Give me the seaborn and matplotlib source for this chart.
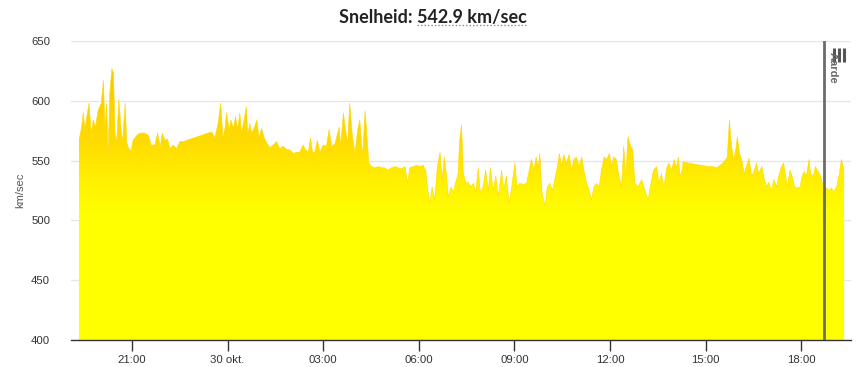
import numpy as np
import pandas as pd
import matplotlib
matplotlib.use("Agg")
import matplotlib.pyplot as plt
import seaborn as sns
from matplotlib.colors import LinearSegmentedColormap
from matplotlib.lines import Line2D

# ---- data (minutes after 29 okt 19:20, solar wind speed km/sec) ----
minutes = [0, 5, 8, 11, 19, 23, 27, 31, 36, 42, 46, 49, 52, 55, 58, 62, 65, 68, 71, 75,
           79, 82, 87, 90, 93, 98, 102, 109, 115, 124, 131, 136, 143, 148, 153, 157, 162, 167, 171, 178,
           184, 190, 197, 250, 256, 262, 267, 271, 275, 278, 283, 286, 291, 295, 299, 303, 306, 311, 315, 318,
           322, 325, 330, 335, 339, 344, 349, 353, 360,
           366, 372, 378, 385, 391, 397, 404, 410, 416, 422, 427, 432, 436, 440, 444, 449, 454, 460, 466, 471,
           476, 482, 490, 493, 498, 502, 506, 510, 515, 520, 525, 529, 534, 539, 542, 546, 551, 557, 564, 570,
           576, 582, 589, 595, 601, 608, 614, 619, 623, 630, 636, 642, 648, 653, 657, 661, 665, 670, 675, 680,
           684, 688, 692, 695, 701, 705, 709, 714, 717,
           720.5, 724, 729, 733, 738, 743, 747, 752, 756, 761, 766, 771, 775, 780, 785, 790, 796, 800, 805, 810,
           815, 821, 825, 830, 837, 843, 848, 852, 857, 861, 865, 868, 872, 878, 882, 887, 892, 896, 901, 905,
           909, 913, 918, 923, 928, 932, 937, 942, 947, 951, 956, 961, 965, 970, 975, 980, 984, 989, 994, 999,
           1003, 1007, 1012, 1017, 1022, 1026, 1030, 1034, 1039, 1043, 1047, 1053, 1060, 1066, 1072, 1076, 1082,
           1088, 1092, 1097, 1102, 1107, 1111, 1116, 1121, 1125, 1129, 1132, 1136, 1138, 1147, 1160, 1173, 1185, 1194, 1201, 1207,
           1213, 1218, 1221, 1225, 1229, 1233, 1237, 1240, 1244, 1248, 1253, 1257, 1262, 1267, 1272, 1276, 1280, 1286, 1291, 1295,
           1299, 1304, 1309, 1314, 1318, 1323, 1327, 1331, 1334, 1339, 1343, 1348, 1353, 1358, 1362, 1366, 1370, 1375, 1378, 1383,
           1387, 1392, 1397, 1400, 1405, 1408, 1412, 1417, 1422, 1427, 1432, 1436, 1439, 1441]
speed = [567, 578, 590, 577, 598, 573, 584, 578, 592, 598, 617, 578, 598, 553, 606, 627, 623, 573, 565, 601,
         578, 565, 598, 565, 561, 558, 567, 571, 573, 573, 571, 563, 563, 573, 561, 573, 567, 568, 560, 563,
         560, 566, 566, 574, 569, 581, 598, 569, 577, 590, 576, 584, 577, 587, 576, 590, 573, 584, 595, 573,
         581, 573, 577, 584, 569, 577, 569, 565, 561,
         563, 566, 560, 562, 559, 559, 556, 557, 557, 563, 559, 557, 569, 557, 557, 567, 557, 563, 562, 576,
         562, 564, 578, 562, 590, 576, 564, 598, 570, 556, 576, 584, 553, 592, 573, 548, 545, 544, 545, 544,
         544, 542, 544, 545, 544, 543, 545, 531, 544, 545, 546, 545, 546, 542, 525, 514, 528, 517, 545, 557,
         534, 553, 539, 520, 528, 523, 531, 539, 567,
         580, 539, 531, 532, 528, 531, 523, 544, 523, 528, 542, 525, 544, 525, 537, 520, 542, 525, 537, 514,
         528, 548, 528, 531, 530, 531, 542, 551, 542, 553, 545, 556, 523, 512, 528, 531, 525, 534, 545, 556,
         545, 555, 548, 555, 542, 551, 553, 545, 553, 542, 531, 525, 517, 528, 531, 528, 542, 553, 551, 556,
         545, 553, 551, 537, 528, 562, 537, 570, 562, 559, 531, 528, 534, 525, 517, 528, 542,
         545, 531, 539, 528, 544, 548, 542, 551, 544, 553, 537, 542, 549, 548, 547, 546, 545, 545, 544, 546,
         548, 551, 553, 584, 562, 551, 559, 570, 556, 551, 539, 545, 552, 537, 542, 548, 539, 545, 534, 528,
         532, 525, 534, 528, 537, 545, 548, 537, 528, 542, 537, 528, 527, 528, 537, 541, 537, 551, 539, 537,
         545, 541, 537, 531, 528, 527, 525, 527, 524, 528, 539, 551, 546, 542]

tick_minutes = [100, 280, 460, 640, 820, 1000, 1180, 1360]
tick_labels = ["21:00", "30 okt.", "03:00", "06:00", "09:00", "12:00", "15:00", "18:00"]
y_ticks = [400, 450, 500, 550, 600, 650]
marker_minute = 1403
marker_label = "Aarde"
title_label = "Snelheid: "
title_value = "542.9 km/sec"
y_label = "km/sec"

sns.set_theme(style="white")
plt.rcParams['font.family'] = ['Liberation Sans', 'DejaVu Sans']

W, H = 865, 367
fig = plt.figure(figsize=(W / 100, H / 100), dpi=100)
ax = fig.add_axes([71 / W, 1 - 340 / H, 780 / W, 299 / H])

df = pd.DataFrame({"minute": minutes, "speed": speed})
xmin, xmax = -15, 1454

# gradient area fill
poly = ax.fill_between(df["minute"], 400, df["speed"], color="none", lw=0)
cmap = LinearSegmentedColormap.from_list(
    "sun", [(0.0, "#FFFF00"), (0.40, "#FFFF00"), (0.48, "#FFF800"),
            (0.66, "#FFDC00"), (0.92, "#F8C800"), (1.0, "#F5C000")])
grad = np.linspace(0, 1, 256).reshape(-1, 1)
im = ax.imshow(grad, extent=[xmin, xmax, 400, 650], origin="lower", aspect="auto",
               cmap=cmap, interpolation="bilinear", zorder=1)
im.set_clip_path(poly.get_paths()[0], transform=ax.transData)

sns.lineplot(data=df, x="minute", y="speed", ax=ax, color="#FFD800", lw=0.4,
             estimator=None, zorder=2)
ax.set_xlim(xmin, xmax)
ax.set_ylim(400, 650)

# axes styling
ax.set_yticks(y_ticks)
ax.set_xticks(tick_minutes)
ax.set_xticklabels(tick_labels)
ax.yaxis.grid(True, color="#e6e6e6", lw=1)
ax.xaxis.grid(False)
ax.set_axisbelow(True)
for s in ["top", "right", "left"]:
    ax.spines[s].set_visible(False)
ax.spines["bottom"].set_color("#333333")
ax.spines["bottom"].set_linewidth(1)
ax.spines["bottom"].set_zorder(3)
ax.tick_params(axis="x", direction="out", length=8, width=1, color="#333333",
               labelsize=8.2, labelcolor="#333333", pad=3, bottom=True)
ax.tick_params(axis="y", length=0, labelsize=8.2, labelcolor="#333333", pad=15)
ax.set_xlabel("")
ax.set_ylabel("")
fig.text(20 / W, 1 - 190 / H, y_label, rotation=90, ha="center", va="center",
         fontsize=8, color="#555555")

# plot line marker
ax.axvline(marker_minute, color="#6b6b6b", lw=2, zorder=5)
fig.canvas.draw()
mx = ax.transData.transform((marker_minute, 650))[0]  # display px
fig.text((mx + 4) / W, 1 - 52 / H, marker_label, rotation=270, ha="left", va="top",
         fontsize=8, color="#666666", fontweight="bold")
for off in (10, 15, 20):
    fig.add_artist(Line2D([(mx + off) / W] * 2, [1 - 48 / H, 1 - 62 / H],
                          lw=2.2, color="#555555", solid_capstyle="butt"))

# title with dotted underline on the value
tfam = ["Lato", "DejaVu Sans"]
full = title_label + title_value
t = fig.text(0.5, 1 - 17 / H, full, ha="center", va="center", fontsize=13,
             fontweight="bold", color="#222222", family=tfam)
fig.canvas.draw()
r = fig.canvas.get_renderer()
bb = t.get_window_extent(r)
tmp = fig.text(0, 0, title_value, fontsize=13, fontweight="bold", family=tfam)
vw = tmp.get_window_extent(r).width
tmp.remove()
fig.add_artist(Line2D([(bb.x1 - vw) / W, bb.x1 / W], [1 - 25 / H] * 2, lw=1,
                      color="#8a8a8a", linestyle=(0, (1, 1.5))))

fig.savefig("out.png", dpi=100)
